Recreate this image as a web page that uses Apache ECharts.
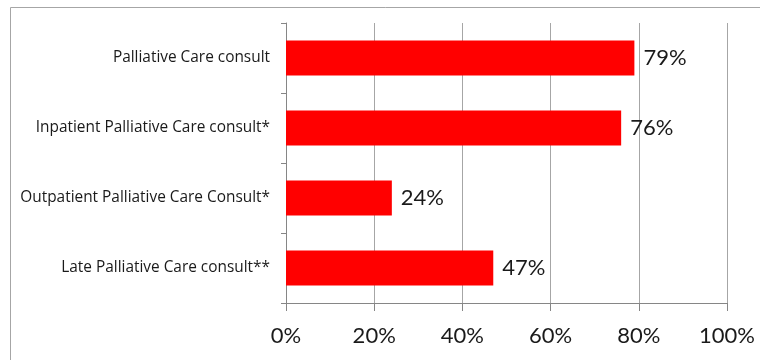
<!DOCTYPE html>
<html>
<head>
<meta charset="utf-8">
<script src="https://cdn.jsdelivr.net/npm/echarts@6/dist/echarts.min.js"></script>
<style>
  html, body { margin: 0; padding: 0; background: #fff; }
  #main { width: 760px; height: 360px; }
</style>
</head>
<body>
<div id="main"></div>
<script>
  // data
  var categories = [
    'Palliative Care consult',
    'Inpatient Palliative Care consult*',
    'Outpatient Palliative Care Consult*',
    'Late Palliative Care consult**'
  ];
  var values = [79, 76, 24, 47];
  var xTicks = [0, 20, 40, 60, 80, 100];

  var myChart = echarts.init(document.getElementById('main'));
  var option = {
    animation: false,
    textStyle: { fontFamily: 'Lato' },
    graphic: [{
      type: 'rect',
      shape: { x: 10.5, y: 7.5, width: 770, height: 370 },
      style: { fill: 'none', stroke: '#a6a6a6', lineWidth: 1 },
      silent: true
    }],
    grid: { left: 286, right: 33, top: 23, bottom: 57 },
    xAxis: {
      type: 'value',
      min: xTicks[0],
      max: xTicks[xTicks.length - 1],
      interval: 20,
      axisLine: { show: true, lineStyle: { color: '#868686' } },
      axisTick: { show: true, length: 8, lineStyle: { color: '#868686' } },
      splitLine: { show: true, lineStyle: { color: '#a6a6a6' } },
      axisLabel: {
        formatter: '{value}%',
        fontSize: 22,
        color: '#1a1a1a',
        margin: 22
      }
    },
    yAxis: {
      type: 'category',
      inverse: true,
      data: categories,
      axisLine: { show: true, lineStyle: { color: '#868686' } },
      axisTick: { show: true, length: 5, lineStyle: { color: '#868686' } },
      axisLabel: { fontSize: 15.4, fontFamily: 'Open Sans', color: '#1a1a1a', margin: 16 }
    },
    series: [{
      type: 'bar',
      data: values,
      barWidth: '50%',
      itemStyle: { color: '#ff0000' },
      label: {
        show: true,
        position: 'right',
        distance: 9,
        formatter: '{c}%',
        fontSize: 22,
        color: '#1a1a1a'
      }
    }]
  };
  myChart.setOption(option);
</script>
</body>
</html>
